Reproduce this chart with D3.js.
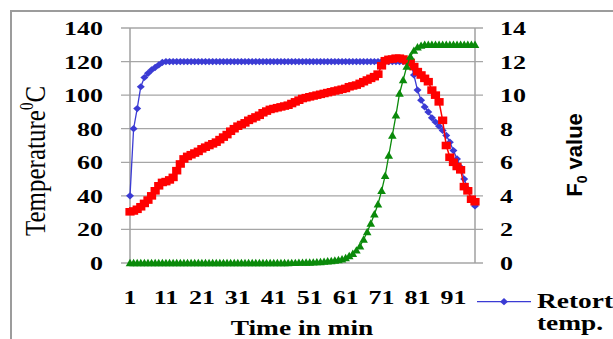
<!DOCTYPE html>
<html>
<head>
<meta charset="utf-8">
<script src="https://cdn.jsdelivr.net/npm/d3@7"></script>
<style>
  html, body { margin: 0; padding: 0; background: #fff; overflow: hidden; }
</style>
</head>
<body>
<svg id="chart" width="613" height="339"></svg>
<script>
// retort temperature (°C), one reading per minute
const retortTemp = [
  40, 80, 92, 105, 110.5, 113, 115, 116.5, 118, 119.5,
  120, 120, 120, 120, 120, 120, 120, 120, 120, 120,
  120, 120, 120, 120, 120, 120, 120, 120, 120, 120,
  120, 120, 120, 120, 120, 120, 120, 120, 120, 120,
  120, 120, 120, 120, 120, 120, 120, 120, 120, 120,
  120, 120, 120, 120, 120, 120, 120, 120, 120, 120,
  120, 120, 120, 120, 120, 120, 120, 120, 120, 120,
  120, 120, 120, 120, 120, 120, 120, 120, 120, 112,
  103, 97, 93, 90, 86.5, 84, 81.5, 79, 76, 72,
  67, 62, 57, 50, 44, 38, 34
]
// product (cold point) temperature (°C)
const productTemp = [
  30.5, 31, 32, 33.5, 35.5, 37.5, 40, 43, 46, 48,
  48.5, 49.5, 51, 55, 59, 62, 63.5, 64.5, 65.5, 66.5,
  68, 69, 70, 71, 72, 73.5, 75, 76.5, 78.5, 80,
  81.5, 82.5, 83.5, 85, 86, 87, 88, 89.5, 90.5, 91.5,
  92, 92.5, 93, 93.5, 94, 95, 96, 97, 98, 98.5,
  99, 99.5, 100, 100.5, 101, 101.5, 102, 102.5, 103, 103.5,
  104, 105, 105.5, 106, 107, 108, 109, 110, 111, 112.5,
  117.5, 120.5, 121.3, 121.5, 122, 122, 121.5, 120.5, 119.5, 117,
  114, 112, 110, 108, 103, 100, 96, 85, 70, 63,
  60, 57.5, 55.5, 45.5, 43, 38, 36.5
]
// accumulated F0 value (min)
const f0Value = [
  0, 0, 0, 0, 0, 0, 0, 0, 0, 0,
  0, 0, 0, 0, 0, 0, 0, 0, 0, 0,
  0, 0, 0, 0, 0, 0, 0, 0, 0, 0,
  0, 0, 0, 0, 0, 0, 0, 0, 0, 0,
  0, 0, 0, 0, 0, 0.01, 0.01, 0.02, 0.02, 0.03,
  0.03, 0.04, 0.05, 0.06, 0.08, 0.1, 0.12, 0.15, 0.18, 0.22,
  0.3, 0.42, 0.55, 0.75, 1.0, 1.4, 1.85, 2.35, 2.9, 3.5,
  4.3, 5.2, 6.4, 7.6, 8.8, 10.1, 10.9, 11.7, 12.3, 12.65,
  12.85, 12.95, 13, 13, 13, 13, 13, 13, 13, 13,
  13, 13, 13, 13, 13, 13, 13
]
const minutes = retortTemp.map((_, i) => i + 1)
const xTickLabels = [1, 11, 21, 31, 41, 51, 61, 71, 81, 91]
const tempTicks = [0, 20, 40, 60, 80, 100, 120, 140]
const f0Ticks = [0, 2, 4, 6, 8, 10, 12, 14]

const svg = d3.select('#chart')
const plotLeft = 130
const plotRight = 475
const plotTop = 28
const plotBottom = 263
const stretch = 1.37
const serif = "'Liberation Serif', 'Times New Roman', serif"
const sans = "'Liberation Sans', Arial, sans-serif"

const x = d3.scalePoint().domain(minutes).range([plotLeft, plotRight])
const yTemp = d3.scaleLinear().domain([0, 140]).range([plotBottom, plotTop])
const yF0 = d3.scaleLinear().domain([0, 14]).range([plotBottom, plotTop])

// outer frame
svg.append('rect').attr('x', 11).attr('y', 11).attr('width', 700).attr('height', 400)
  .attr('fill', 'none').attr('stroke', '#9c9c9c').attr('stroke-width', 2)

// gridlines with outside tick stubs on both axes
svg.append('g').selectAll('line').data(tempTicks).join('line')
  .attr('x1', plotLeft - 9).attr('x2', plotRight + 8)
  .attr('y1', (d) => yTemp(d)).attr('y2', (d) => yTemp(d))
  .attr('stroke', '#a6a6a6').attr('stroke-width', 1.3)

svg.append('line').attr('x1', plotLeft).attr('x2', plotLeft).attr('y1', plotTop).attr('y2', plotBottom)
  .attr('stroke', '#a0a0a0').attr('stroke-width', 1.5)
svg.append('line').attr('x1', plotRight).attr('x2', plotRight).attr('y1', plotTop).attr('y2', plotBottom)
  .attr('stroke', '#a0a0a0').attr('stroke-width', 1.5)

// tick labels (the picture's text is stretched horizontally)
const labelStyle = (sel, size) => sel.attr('font-family', serif).attr('font-weight', 700).attr('font-size', size).attr('fill', '#000')

labelStyle(svg.append('g').selectAll('text').data(tempTicks).join('text'), 19)
  .attr('text-anchor', 'end')
  .attr('transform', (d) => `translate(103,${yTemp(d) + 7}) scale(${stretch},1)`)
  .text((d) => d)

labelStyle(svg.append('g').selectAll('text').data(f0Ticks).join('text'), 19)
  .attr('text-anchor', 'start')
  .attr('transform', (d) => `translate(500,${yF0(d) + 7}) scale(${stretch},1)`)
  .text((d) => d)

labelStyle(svg.append('g').selectAll('text').data(xTickLabels).join('text'), 19)
  .attr('text-anchor', 'middle')
  .attr('transform', (d) => `translate(${x(d)},304) scale(${stretch},1)`)
  .text((d) => d)

labelStyle(svg.append('text'), 20)
  .attr('text-anchor', 'middle')
  .attr('transform', `translate(302,334.5) scale(${stretch},1)`)
  .text('Time in min')

// left axis title
const yTitle = svg.append('text')
  .attr('font-family', serif).attr('font-size', 25).attr('fill', '#000')
  .attr('text-anchor', 'middle')
  .attr('transform', `translate(45,161) scale(1.2,1) rotate(-90)`)
yTitle.append('tspan').text('Temperature')
yTitle.append('tspan').attr('font-size', 15).attr('dy', -10).text('0')
yTitle.append('tspan').attr('dy', 10).text('C')

// right axis title
const fTitle = svg.append('text')
  .attr('font-family', sans).attr('font-weight', 700).attr('font-size', 22).attr('fill', '#000')
  .attr('text-anchor', 'middle')
  .attr('transform', `translate(582,155) rotate(-90)`)
fTitle.append('tspan').text('F')
fTitle.append('tspan').attr('font-size', 14).attr('dy', 5).text('0')
fTitle.append('tspan').attr('dy', -5).text(' value')

// series
const series = [
  { values: retortTemp, y: yTemp, color: '#3b3bd4', width: 1.3, marker: 'M0,-3.6L4,0L0,3.6L-4,0Z' },
  { values: productTemp, y: yTemp, color: '#ff0000', width: 1.5, marker: 'M-4.6,-3.8H4.6V3.8H-4.6Z' },
  { values: f0Value, y: yF0, color: '#0a8a0a', width: 1.3, marker: 'M0,-4.2L4.3,3.2H-4.3Z' },
]

series.forEach((s) => {
  const line = d3.line().x((d, i) => x(minutes[i])).y((d) => s.y(d))
  const g = svg.append('g')
  g.append('path').datum(s.values).attr('fill', 'none').attr('stroke', s.color)
    .attr('stroke-width', s.width).attr('d', line)
  g.selectAll('path.m').data(s.values).join('path').attr('class', 'm')
    .attr('transform', (d, i) => `translate(${x(minutes[i])},${s.y(d)})`)
    .attr('d', s.marker).attr('fill', s.color)
})

// legend (only the first entry fits in the frame)
svg.append('line').attr('x1', 477).attr('x2', 531).attr('y1', 301.7).attr('y2', 301.7)
  .attr('stroke', '#3b3bd4').attr('stroke-width', 1.3)
svg.append('path').attr('transform', 'translate(504,301.7)').attr('d', series[0].marker).attr('fill', '#3b3bd4')
labelStyle(svg.append('text'), 20).attr('transform', `translate(537,308) scale(${stretch},1)`).text('Retort')
labelStyle(svg.append('text'), 20).attr('transform', `translate(537,330) scale(${stretch},1)`).text('temp.')
</script>
</body>
</html>
